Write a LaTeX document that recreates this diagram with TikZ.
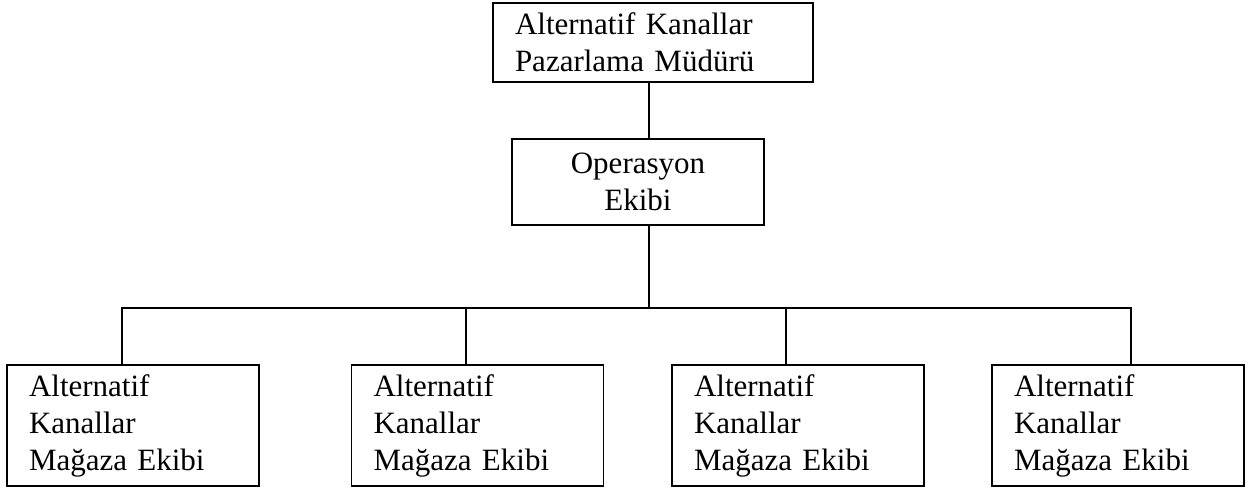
\documentclass[tikz,border=0pt]{standalone}
\usepackage{fontspec}
\setmainfont{Liberation Serif}
\usepackage{tikz}
\usetikzlibrary{positioning}

\tikzset{
  orgbox/.style={draw=black, line width=0.9pt, rectangle, inner ysep=0pt,
    font=\fontsize{15.5}{18.5}\selectfont},
  teambox/.style={orgbox, text width=104pt, inner xsep=11pt, align=left,
    minimum height=60.5pt},
  orgline/.style={black, line width=0.9pt}
}

\begin{document}
\begin{tikzpicture}[x=0.5pt,y=-0.5pt]
       \useasboundingbox (0,0) rectangle (1251,488);
       % boxes
       \node[orgbox, text width=138pt, inner xsep=11pt, align=left, minimum height=39.5pt] (mgr) at (653,42.5) {Alternatif Kanallar\\Pazarlama Müdürü};
       \node[orgbox, text width=116pt, inner xsep=5pt, align=center, minimum height=43pt] (ops) at (638,182) {Operasyon\\Ekibi};
       \node[teambox] (team1) at (133,425.5) {Alternatif\\Kanallar\\Mağaza Ekibi};
       \node[teambox] (team2) at (477.5,425.5) {Alternatif\\Kanallar\\Mağaza Ekibi};
       \node[teambox] (team3) at (798,425.5) {Alternatif\\Kanallar\\Mağaza Ekibi};
       \node[teambox] (team4) at (1118,425.5) {Alternatif\\Kanallar\\Mağaza Ekibi};
       \coordinate (bus) at (649,308);
       % connectors
       \draw[orgline] (mgr.south -| bus) -- (ops.north -| bus);
       \draw[orgline] (ops.south -| bus) -- (bus);
       \foreach \t/\s in {team1/-5.5pt, team2/-5.75pt, team3/-6pt, team4/6.5pt}
         \draw[orgline] ([xshift=\s]\t.north) |- (bus);
\end{tikzpicture}
\end{document}
